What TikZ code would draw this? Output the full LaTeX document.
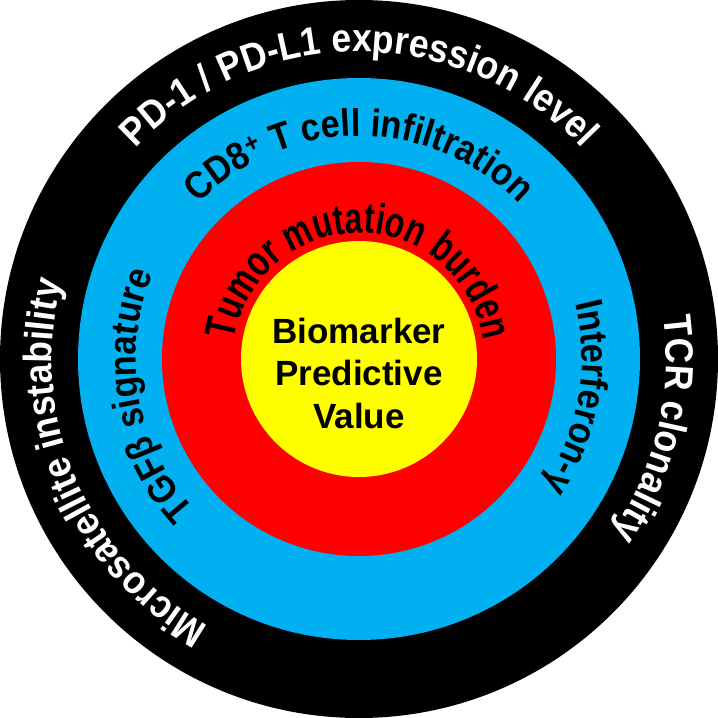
\documentclass[tikz,border=0pt]{standalone}
\usepackage{fontspec}
\setmainfont{Liberation Sans}
\newfontfamily\outerfont{Liberation Sans}[UprightFont={* Bold},FakeStretch=0.9]
\newfontfamily\middlefont{Liberation Sans}[UprightFont={* Bold},FakeStretch=0.89]
\newfontfamily\innerfont{Liberation Sans}[UprightFont={* Bold},FakeStretch=0.74]
\usetikzlibrary{decorations.text}
\definecolor{ringblue}{RGB}{0,176,240}
\definecolor{ringred}{RGB}{255,0,0}
\definecolor{ringyellow}{RGB}{255,255,0}
\newcommand\outerstyle{\outerfont\fontsize{39.5}{40}\selectfont\color{white}}
\newcommand\middlestyle{\middlefont\fontsize{38.5}{40}\selectfont\color{black}}
\newcommand\innerstyle{\innerfont\fontsize{43}{44}\selectfont\color{black}}
\tikzset{
  arctext/.style={decorate,decoration={text along path,text align=center,text={#1}}},
  centertext/.style={anchor=base,font=\bfseries\fontsize{35}{42}\selectfont},
}

\begin{document}
\begin{tikzpicture}[x=1pt,y=1pt]
\useasboundingbox (-359,-359) rectangle (359,359);
\coordinate (c) at (0,0);
\fill[black] (c) circle[radius=359];
\fill[ringblue] (c) circle[radius=281];
\fill[ringred] (c) circle[radius=197];
\fill[ringyellow] (c) circle[radius=118];
\path[arctext={|\outerstyle|PD-1 / PD-L1 expression level}] (c) ++(180:307) arc[start angle=180,end angle=0,radius=307];
\path[arctext={|\outerstyle|Microsatellite instability}] (c) ++(283:307) arc[start angle=283,end angle=123,radius=307];
\path[arctext={|\outerstyle|TCR clonality}] (c) ++(66.7:307) arc[start angle=66.7,end angle=-93.3,radius=307];
\path[arctext={|\middlestyle|CD8{\textsuperscript{+}} T cell infiltration}] (c) ++(170:223) arc[start angle=170,end angle=10,radius=223];
\path[arctext={|\middlestyle|TGFβ signature}] (c) ++(270:223) arc[start angle=270,end angle=110,radius=223];
\path[arctext={|\middlestyle|Interferon-γ}] (c) ++(70:223) arc[start angle=70,end angle=-90,radius=223];
\path[arctext={|\innerstyle|Tumor mutation burden}] (c) ++(179:126) arc[start angle=179,end angle=1,radius=126];
\node[centertext] (bm1) at (0,16) {Biomarker};
\node[centertext] (bm2) at (0,-26) {Predictive};
\node[centertext] (bm3) at (0,-69) {Value};
\end{tikzpicture}
\end{document}
